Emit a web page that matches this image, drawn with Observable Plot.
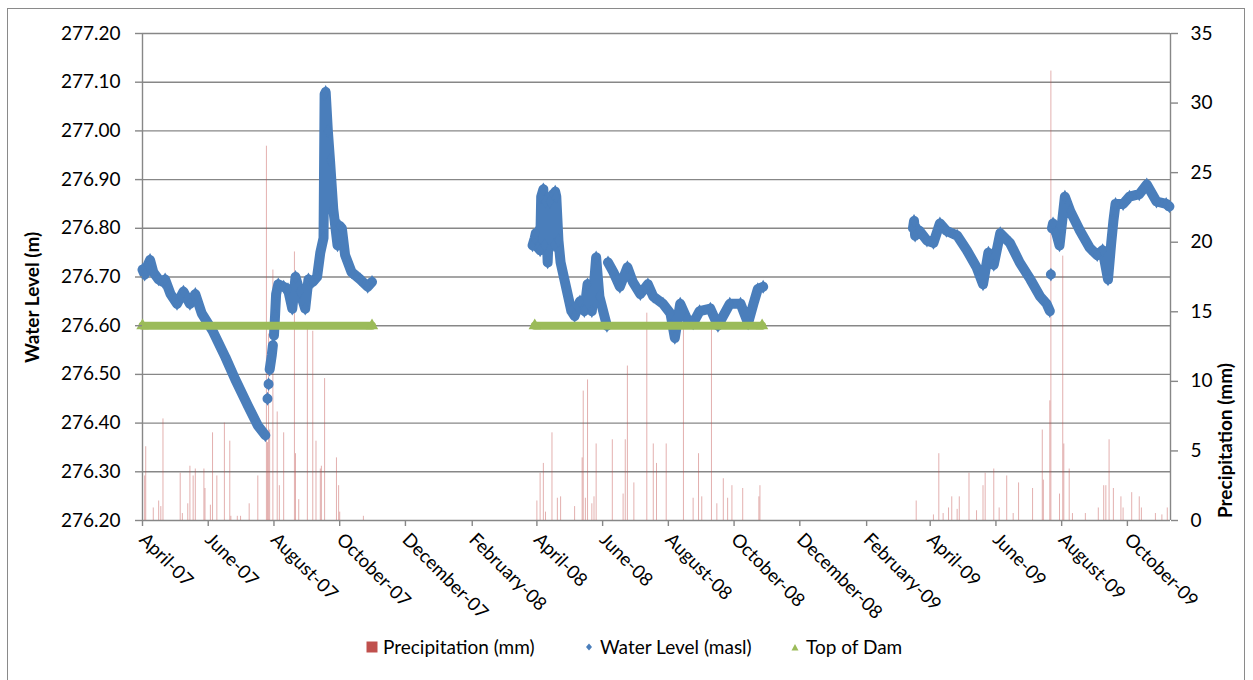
<!DOCTYPE html>
<html>
<head>
<meta charset="utf-8">
<script src="https://cdn.jsdelivr.net/npm/d3@7"></script>
<script src="https://cdn.jsdelivr.net/npm/@observablehq/plot@0.6"></script>
<style>
  html, body { margin: 0; padding: 0; background: #fff; }
  #wrap { position: relative; width: 1253px; height: 680px; overflow: hidden; font-family: Lato, "Open Sans", sans-serif; }
  #frame { position: absolute; left: 7px; top: 8px; width: 1238px; height: 700px; border: 1px solid #8a8a8a; box-sizing: border-box; pointer-events: none; }
  #chart { position: absolute; left: 0; top: 0; }
  #legend { position: absolute; left: 0; top: 630px; width: 1253px; height: 50px; font-size: 19px; color: #000; }
  .li { position: absolute; top: 6px; white-space: nowrap; line-height: 22px; }
  .sw { position: absolute; }
</style>
</head>
<body>
<div id="wrap">
  <div id="chart"></div>
  <div id="legend"></div>
  <div id="frame"></div>
</div>
<script>
// ---------------- data ----------------
const levelDomain = [276.2, 277.2];
const precipDomain = [0, 35];
const levelTicks = [276.2, 276.3, 276.4, 276.5, 276.6, 276.7, 276.8, 276.9, 277.0, 277.1, 277.2];
const precipTicks = [0, 5, 10, 15, 20, 25, 30, 35];
const xTickDates = ["2007-04-01","2007-06-01","2007-08-01","2007-10-01","2007-12-01","2008-02-01",
  "2008-04-01","2008-06-01","2008-08-01","2008-10-01","2008-12-01","2009-02-01",
  "2009-04-01","2009-06-01","2009-08-01","2009-10-01"];
const xDomainDates = ["2007-04-01", "2009-11-10"];

// Water level (masl), null = break in the record
const wl2007Dates = ["2007-04-01","2007-04-03","2007-04-06","2007-04-08","2007-04-11","2007-04-16","2007-04-20","2007-04-22",
  "2007-04-27","2007-05-03","2007-05-09","2007-05-15","2007-05-20","2007-05-26","2007-06-05","2007-06-17","2007-06-26",
  "2007-07-08","2007-07-17","2007-07-24","2007-07-25","2007-07-26","2007-07-26","2007-07-27","2007-07-27","2007-07-28",
  "2007-07-30","2007-07-31","2007-08-01","2007-08-01","2007-08-02","2007-08-03","2007-08-05","2007-08-10","2007-08-14",
  "2007-08-18","2007-08-21","2007-08-25","2007-08-30","2007-09-02","2007-09-06","2007-09-10","2007-09-13","2007-09-16",
  "2007-09-17","2007-09-18","2007-09-20","2007-09-22","2007-09-25","2007-09-29","2007-10-01","2007-10-03","2007-10-06",
  "2007-10-12","2007-10-20","2007-10-27","2007-10-31"];
const wl2007Levels = [276.715,276.705,276.725,276.735,276.71,276.695,276.69,276.695,
  276.665,276.645,276.67,276.645,276.665,276.625,276.59,276.535,276.49,
  276.435,276.395,276.375,null,276.45,null,276.48,null,276.51,
  276.54,276.56,null,276.58,276.62,276.665,276.685,276.68,276.675,
  276.635,276.70,276.67,276.635,276.695,276.69,276.70,276.75,276.78,
  277.075,277.08,277.00,276.94,276.84,276.765,276.805,276.80,276.745,
  276.71,276.695,276.68,276.69];

const wl2008Dates = ["2008-03-28","2008-03-30","2008-03-31","2008-04-02","2008-04-04","2008-04-05","2008-04-07","2008-04-08",
  "2008-04-09","2008-04-11","2008-04-13","2008-04-16","2008-04-17","2008-04-18","2008-04-19","2008-04-21","2008-04-23",
  "2008-04-27","2008-05-03","2008-05-06","2008-05-11","2008-05-15","2008-05-18","2008-05-22","2008-05-26","2008-05-29",
  "2008-06-05","2008-06-05","2008-06-06","2008-06-11","2008-06-17","2008-06-24","2008-06-29","2008-07-06","2008-07-13",
  "2008-07-18","2008-07-27","2008-08-03","2008-08-07","2008-08-12","2008-08-18","2008-08-24","2008-08-30","2008-09-09",
  "2008-09-16","2008-09-27","2008-10-07","2008-10-14","2008-10-19","2008-10-23","2008-10-28"];
const wl2008Levels = [276.765,276.78,276.79,276.76,276.755,276.865,276.88,276.765,
  276.855,276.73,276.855,276.87,276.765,276.875,276.865,276.775,276.73,
  276.69,276.63,276.62,276.65,276.63,276.685,276.63,276.74,276.66,
  276.60,null,276.73,276.71,276.68,276.72,276.69,276.665,276.685,
  276.66,276.645,276.625,276.575,276.645,276.615,276.605,276.63,276.635,
  276.60,276.645,276.645,276.605,276.645,276.675,276.68];

const wl2009Dates = ["2009-03-16","2009-03-17","2009-03-18","2009-03-22","2009-03-29","2009-04-04","2009-04-10","2009-04-16",
  "2009-04-26","2009-05-05","2009-05-14","2009-05-20","2009-05-25","2009-05-30","2009-06-05","2009-06-14","2009-06-23",
  "2009-07-03","2009-07-12","2009-07-18","2009-07-21","2009-07-21","2009-07-22","2009-07-22","2009-07-23","2009-07-24",
  "2009-07-27","2009-07-30","2009-08-04","2009-08-09","2009-08-18","2009-08-27","2009-09-03","2009-09-08","2009-09-13",
  "2009-09-16","2009-09-18","2009-09-20","2009-09-27","2009-10-03","2009-10-12","2009-10-19","2009-10-28","2009-11-06",
  "2009-11-09"];
const wl2009Levels = [276.80,276.815,276.785,276.795,276.775,276.77,276.81,276.795,
  276.785,276.755,276.72,276.685,276.75,276.725,276.79,276.77,276.73,
  276.695,276.66,276.645,276.63,null,276.705,null,276.80,276.81,
  276.79,276.765,276.865,276.835,276.795,276.76,276.745,276.755,276.695,
  276.77,276.815,276.85,276.85,276.865,276.87,276.89,276.855,276.85,
  276.845];

// Top of dam
const damDates2007 = ["2007-04-01", "2007-10-31"];
const damDates2008 = ["2008-03-30", "2008-10-27"];
const damLevel = 276.6;

// Daily precipitation (mm)
const precipDates = [
  "2007-04-03","2007-04-04","2007-04-11","2007-04-16","2007-04-18","2007-04-20","2007-05-06","2007-05-08","2007-05-13",
  "2007-05-15","2007-05-18","2007-05-20","2007-05-28","2007-05-29","2007-06-03","2007-06-05","2007-06-09","2007-06-16",
  "2007-06-21","2007-06-22","2007-06-28","2007-07-01","2007-07-09","2007-07-17","2007-07-25","2007-07-26","2007-07-27",
  "2007-07-28","2007-07-31","2007-08-04","2007-08-06","2007-08-10","2007-08-20","2007-08-21","2007-08-24","2007-09-01",
  "2007-09-06","2007-09-09","2007-09-13","2007-09-14","2007-09-17","2007-09-28","2007-09-30","2007-10-01","2007-10-23",
  "2008-04-01","2008-04-04","2008-04-07","2008-04-09","2008-04-15","2008-04-20","2008-04-23","2008-05-06","2008-05-13",
  "2008-05-14","2008-05-16","2008-05-18","2008-05-22","2008-05-24","2008-05-26","2008-06-10","2008-06-20","2008-06-22",
  "2008-06-24","2008-06-30","2008-07-12","2008-07-18","2008-07-21","2008-07-30","2008-08-15","2008-08-24","2008-08-29",
  "2008-09-01","2008-09-10","2008-09-15","2008-09-21","2008-09-25","2008-09-29","2008-10-09","2008-10-24","2008-10-25",
  "2009-03-19","2009-04-04","2009-04-09","2009-04-13","2009-04-18","2009-04-21","2009-04-26","2009-04-28","2009-05-07",
  "2009-05-14","2009-05-20","2009-05-22","2009-05-30","2009-06-04","2009-06-11","2009-06-17","2009-06-22","2009-07-05",
  "2009-07-14","2009-07-15","2009-07-21","2009-07-22","2009-07-30","2009-08-02","2009-08-03","2009-08-08","2009-08-11",
  "2009-08-23","2009-09-04","2009-09-09","2009-09-11","2009-09-14","2009-09-18","2009-09-25","2009-09-27","2009-10-05",
  "2009-10-12","2009-10-14","2009-10-27","2009-11-02","2009-11-07"];
const precipMM = [
  3.2,5.3,0.9,1.4,1.0,7.3,3.4,0.5,1.2,
  3.9,3.2,3.7,3.7,2.3,1.1,6.3,3.2,7.0,
  5.7,0.3,0.3,0.3,1.2,3.2,26.9,5.6,13.4,
  6.5,18.0,7.8,2.5,6.3,19.3,4.8,1.5,13.9,
  13.6,5.7,3.7,3.9,10.2,4.5,2.5,0.6,0.3,
  1.4,3.4,4.1,0.6,6.3,1.6,1.7,1.0,4.5,
  9.3,1.6,10.1,1.2,1.7,5.5,5.8,1.9,5.8,
  11.1,2.7,14.9,5.5,4.1,5.5,13.8,1.6,4.8,
  1.7,13.8,1.2,3.0,1.6,2.5,2.3,1.7,2.5,
  1.4,0.4,4.8,0.5,0.9,1.7,0.8,1.7,3.4,
  0.7,2.5,3.4,3.7,0.9,3.2,0.5,2.7,2.3,
  6.5,2.9,8.6,32.3,1.9,19.0,5.5,3.7,0.5,
  0.5,0.9,2.5,2.5,5.8,2.3,1.7,0.9,2.0,
  1.7,0.9,0.5,0.4,0.9];

// ---------------- build ----------------
const parse = d3.utcParse("%Y-%m-%d");
const rows = (dates, values, seg) => dates.map((d, i) => ({date: parse(d), value: values[i], seg}));
const water = [
  ...rows(wl2007Dates, wl2007Levels, "2007"),
  ...rows(wl2008Dates, wl2008Levels, "2008"),
  ...rows(wl2009Dates, wl2009Levels, "2009")
];
const dam = [
  ...rows(damDates2007, damDates2007.map(() => damLevel), "2007"),
  ...rows(damDates2008, damDates2008.map(() => damLevel), "2008")
];
const precip = rows(precipDates, precipMM, "p");
// precipitation shares the frame: map its 0–35 mm axis onto the level axis
const toLevel = p => levelDomain[0] + (p - precipDomain[0]) * (levelDomain[1] - levelDomain[0]) / (precipDomain[1] - precipDomain[0]);
const fromLevel = v => precipDomain[0] + (v - levelDomain[0]) * (precipDomain[1] - precipDomain[0]) / (levelDomain[1] - levelDomain[0]);
const xDomain = xDomainDates.map(parse);

const BLUE = "#4A7EBB", RED = "#C0504D", GREEN = "#9BBB59", GRID = "#878787";

const chart = Plot.plot({
  width: 1253,
  height: 630,
  marginLeft: 142,
  marginRight: 83,
  marginTop: 33,
  marginBottom: 110,
  style: {fontFamily: "Lato, 'Open Sans', sans-serif", fontSize: "19px", color: "#000", background: "transparent", overflow: "visible"},
  x: {type: "utc", domain: xDomain},
  y: {domain: levelDomain},
  marks: [
    Plot.gridY(levelTicks, {stroke: GRID, strokeOpacity: 1, strokeWidth: 1.4}),
    Plot.ruleX(precip, {x: "date", y1: () => toLevel(0), y2: d => toLevel(d.value), stroke: RED, strokeOpacity: 0.45, strokeWidth: 1}),
    Plot.ruleX([xDomain[0], xDomain[1]], {stroke: GRID, strokeWidth: 1.4}),
    Plot.line(water, {x: "date", y: "value", z: "seg", stroke: BLUE, strokeWidth: 10, strokeLinejoin: "round", strokeLinecap: "round"}),
    Plot.dot(water, {x: "date", y: "value", symbol: "diamond", r: 4.2, fill: BLUE}),
    Plot.line(dam, {x: "date", y: "value", z: "seg", stroke: GREEN, strokeWidth: 8}),
    Plot.dot(dam, {x: "date", y: "value", symbol: "triangle", r: 4.6, fill: GREEN}),
    Plot.axisY({anchor: "left", ticks: levelTicks, tickFormat: d3.format(".2f"), tickSize: 7, tickPadding: 15, stroke: GRID, strokeWidth: 1.4, label: null}),
    Plot.axisY({anchor: "right", ticks: precipTicks.map(toLevel), tickFormat: v => String(Math.round(fromLevel(v))), tickSize: 7, tickPadding: 13, stroke: GRID, strokeWidth: 1.4, label: null}),
    Plot.axisX({ticks: xTickDates.map(parse), tickFormat: d3.utcFormat("%B-%y"), tickRotate: 45, tickSize: 6, tickPadding: 10, stroke: GRID, strokeWidth: 1.4, fontSize: 18.5, label: null}),
    Plot.text(["Water Level (m)"], {frameAnchor: "left", dx: -110, dy: 86, rotate: -90, fontWeight: "bold", fontSize: 19}),
    Plot.text(["Precipitation (mm)"], {frameAnchor: "right", dx: 55, dy: 86, rotate: -90, fontWeight: "bold", fontSize: 19})
  ]
});
document.getElementById("chart").appendChild(chart);

// legend
const legendItems = [
  {label: "Precipitation (mm)", color: RED, shape: "square", left: 366},
  {label: "Water Level (masl)", color: BLUE, shape: "diamond", left: 583},
  {label: "Top of Dam", color: GREEN, shape: "triangle", left: 789}
];
const lg = document.getElementById("legend");
for (const it of legendItems) {
  const sw = document.createElementNS("http://www.w3.org/2000/svg", "svg");
  sw.setAttribute("width", 12); sw.setAttribute("height", 12);
  sw.setAttribute("class", "sw");
  sw.style.left = it.left + "px"; sw.style.top = "11px";
  const p = document.createElementNS("http://www.w3.org/2000/svg", "path");
  p.setAttribute("fill", it.color);
  p.setAttribute("d", it.shape === "square" ? "M0.5,0.5H11.5V11.5H0.5Z" : it.shape === "diamond" ? "M6,2.5L9,6L6,9.5L3,6Z" : "M6,3L9.5,9.5H2.5Z");
  sw.appendChild(p);
  lg.appendChild(sw);
  const t = document.createElement("div");
  t.className = "li"; t.textContent = it.label;
  t.style.left = (it.left + 17) + "px";
  lg.appendChild(t);
}
</script>
</body>
</html>
